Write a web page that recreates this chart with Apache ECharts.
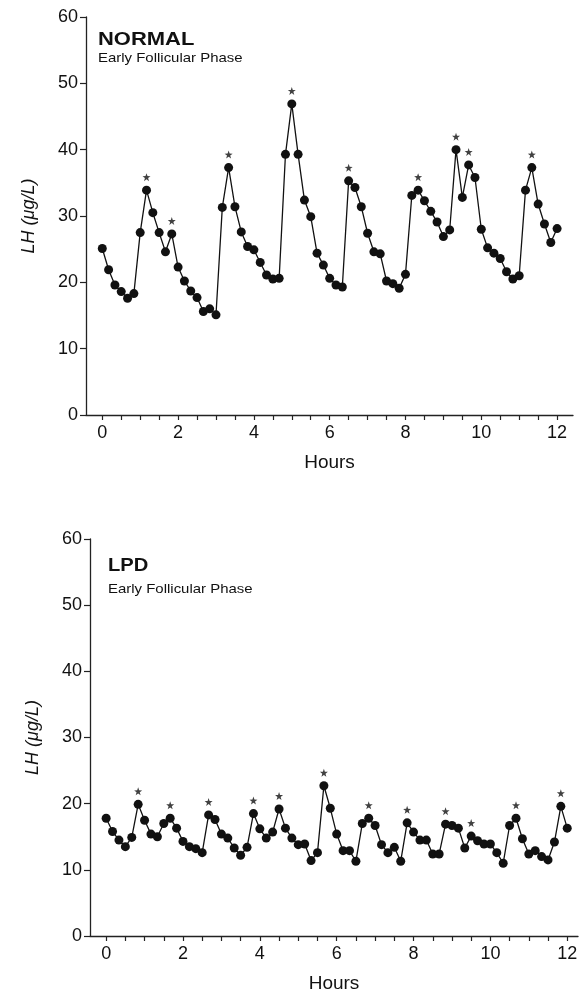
<!DOCTYPE html>
<html>
<head>
<meta charset="utf-8">
<script src="https://cdn.jsdelivr.net/npm/echarts@6/dist/echarts.min.js"></script>
<style>
html,body{margin:0;padding:0;background:#fff;}
#chart{width:585px;height:994px;}
</style>
</head>
<body>
<div id="chart"></div>
<script>
// LH (ug/L) sampled every 10 minutes, 0-12 h
const normalLH = [25.1,21.9,19.6,18.6,17.6,18.3,27.5,33.9,30.5,27.5,24.6,27.3,22.3,20.2,18.7,17.7,15.6,16.0,15.1,31.3,37.3,31.4,27.6,25.4,24.9,23.0,21.1,20.5,20.6,39.3,46.9,39.3,32.4,29.9,24.4,22.6,20.6,19.6,19.3,35.3,34.3,31.4,27.4,24.6,24.3,20.2,19.8,19.1,21.2,33.1,33.9,32.3,30.7,29.1,26.9,27.9,40.0,32.8,37.7,35.8,28.0,25.2,24.4,23.6,21.6,20.5,21.0,33.9,37.3,31.8,28.8,26.0,28.1];
const lpdLH = [17.8,15.8,14.5,13.5,14.9,19.9,17.5,15.4,15.0,17.0,17.8,16.3,14.3,13.5,13.2,12.6,18.3,17.6,15.4,14.8,13.3,12.2,13.4,18.5,16.2,14.8,15.7,19.2,16.3,14.8,13.8,13.9,11.4,12.6,22.7,19.3,15.4,12.9,12.9,11.3,17.0,17.8,16.7,13.8,12.6,13.4,11.3,17.1,15.7,14.5,14.5,12.4,12.4,16.9,16.7,16.3,13.3,15.1,14.4,13.9,13.9,12.6,11.0,16.7,17.8,14.7,12.4,12.9,12.0,11.5,14.2,19.6,16.3];
// sample indices of detected pulses (marked with *)
const normalPulses = [7,11,20,30,39,50,56,58,68];
const lpdPulses = [5,10,16,23,27,34,41,47,53,57,64,71];
const sampleMinutes = 10;
const xLabelHours = [0,2,4,6,8,10,12];
const xTickHours = [0,0.5,1,1.5,2,2.5,3,3.5,4,4.5,5,5.5,6,6.5,7,7.5,8,8.5,9,9.5,10,10.5,11,11.5,12];
const yTicks = [0,10,20,30,40,50,60];
const panelTitles = ['NORMAL','LPD'];
const panelSubtitle = 'Early Follicular Phase';
const xName = 'Hours';
const yName = 'LH (μg/L)';

const toPts = arr => arr.map((v,i) => [i*sampleMinutes/60, v]);
const starPts = (arr, idx) => idx.map(i => [i*sampleMinutes/60, arr[i]]);

const FONT = '"Liberation Sans", Arial, Helvetica, sans-serif';
const INK = '#111';
const STAR = 'path://M0,-10 L2.35,-3.24 L9.51,-3.09 L3.8,1.24 L5.88,8.09 L0,4 L-5.88,8.09 L-3.8,1.24 L-9.51,-3.09 L-2.35,-3.24 Z';

function xAxisCfg(gi, min, max){
  return {
    gridIndex: gi, type: 'value', min: min, max: max,
    axisLine: {show: true, onZero: false, lineStyle: {color: '#222', width: 1.3}},
    axisTick: {show: true, customValues: xTickHours, length: 5, lineStyle: {color: '#222', width: 1.2}},
    axisLabel: {customValues: xLabelHours, margin: 9, fontSize: 18, color: INK, fontFamily: FONT},
    splitLine: {show: false},
    name: xName, nameLocation: 'middle', nameGap: 38,
    nameTextStyle: {fontSize: 19, color: INK, fontFamily: FONT}
  };
}
function yAxisCfg(gi){
  return {
    gridIndex: gi, type: 'value', min: 0, max: 60, interval: 10,
    axisLine: {show: true, onZero: false, lineStyle: {color: '#222', width: 1.3}},
    axisTick: {show: true, length: 6, lineStyle: {color: '#222', width: 1.2}},
    axisLabel: {margin: 8, fontSize: 18, color: INK, fontFamily: FONT,
      customValues: yTicks},
    splitLine: {show: false},
    name: yName, nameLocation: 'middle', nameGap: 48, nameRotate: 90,
    nameTextStyle: {fontSize: 18, fontStyle: 'italic', color: INK, fontFamily: FONT}
  };
}
function lineSeries(gi, data){
  return {
    type: 'line', xAxisIndex: gi, yAxisIndex: gi, data: data,
    symbol: 'circle', symbolSize: 9, showSymbol: true,
    itemStyle: {color: INK}, lineStyle: {color: INK, width: 1.3},
    animation: false, z: 3
  };
}
function starSeries(gi, data){
  return {
    type: 'scatter', xAxisIndex: gi, yAxisIndex: gi, data: data,
    symbol: STAR, symbolSize: 8, symbolOffset: [0, -13],
    itemStyle: {color: INK}, animation: false, z: 4
  };
}

const chart = echarts.init(document.getElementById('chart'), null, {renderer: 'canvas'});
chart.setOption({
  backgroundColor: '#fff',
  animation: false,
  grid: [
    {left: 86, top: 17, width: 487, height: 398, containLabel: false},
    {left: 90, top: 539, width: 488, height: 400, containLabel: false}
  ],
  xAxis: [xAxisCfg(0, -0.43, 12.42), xAxisCfg(1, -0.42, 12.28)],
  yAxis: [yAxisCfg(0), yAxisCfg(1)],
  series: [
    lineSeries(0, toPts(normalLH)),
    starSeries(0, starPts(normalLH, normalPulses)),
    lineSeries(1, toPts(lpdLH)),
    starSeries(1, starPts(lpdLH, lpdPulses))
  ],
  graphic: [
    {type: 'text', left: 98, top: 31, scaleX: 1.22, style: {text: panelTitles[0], font: 'bold 18px ' + FONT, fill: INK}},
    {type: 'text', left: 98, top: 52, scaleX: 1.15, style: {text: panelSubtitle, font: '13px ' + FONT, fill: INK}},
    {type: 'text', left: 108, top: 557, scaleX: 1.12, style: {text: panelTitles[1], font: 'bold 18px ' + FONT, fill: INK}},
    {type: 'text', left: 108, top: 583, scaleX: 1.15, style: {text: panelSubtitle, font: '13px ' + FONT, fill: INK}}
  ]
});
</script>
</body>
</html>
